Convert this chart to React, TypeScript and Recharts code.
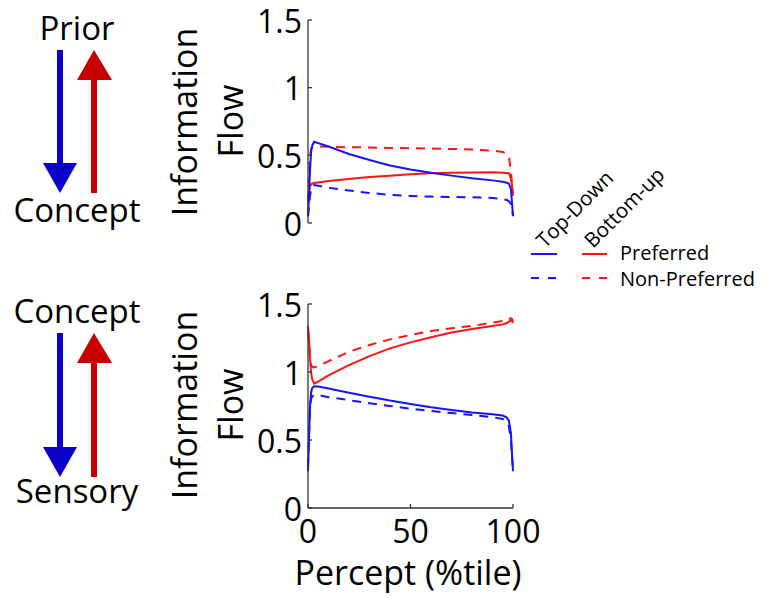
import { LineChart, Line, XAxis, YAxis } from 'recharts';

// percentile positions sampled along the x axis
const percentile = [0, 0.5, 1, 1.5, 2, 3, 5, 10, 20, 30, 40, 50, 60, 70, 80, 90, 95, 97, 98, 99, 99.5, 100];

// Prior <-> Concept panel
const pcTopDownPref = [0.05, 0.2, 0.4, 0.52, 0.57, 0.6, 0.59, 0.565, 0.51, 0.465, 0.425, 0.395, 0.372, 0.35, 0.33, 0.315, 0.305, 0.298, 0.29, 0.25, 0.15, 0.05];
const pcTopDownNon = [0.05, 0.12, 0.2, 0.25, 0.275, 0.28, 0.275, 0.26, 0.24, 0.222, 0.208, 0.2, 0.195, 0.192, 0.19, 0.185, 0.177, 0.17, 0.16, 0.14, 0.1, 0.06];
const pcBottomUpPref = [0.18, 0.24, 0.27, 0.285, 0.29, 0.295, 0.3, 0.31, 0.325, 0.34, 0.35, 0.36, 0.368, 0.372, 0.374, 0.375, 0.372, 0.37, 0.368, 0.33, 0.28, 0.2];
const pcBottomUpNon = [0.15, 0.35, 0.5, 0.55, 0.56, 0.565, 0.565, 0.563, 0.56, 0.558, 0.555, 0.553, 0.55, 0.547, 0.543, 0.535, 0.525, 0.51, 0.49, 0.38, 0.28, 0.22];

// Concept <-> Sensory panel
const csTopDownPref = [0.27, 0.5, 0.75, 0.85, 0.88, 0.895, 0.893, 0.879, 0.847, 0.818, 0.79, 0.764, 0.74, 0.72, 0.703, 0.69, 0.68, 0.665, 0.64, 0.55, 0.4, 0.27];
const csTopDownNon = [0.3, 0.55, 0.75, 0.8, 0.82, 0.83, 0.83, 0.815, 0.793, 0.77, 0.75, 0.73, 0.714, 0.698, 0.683, 0.668, 0.655, 0.63, 0.6, 0.5, 0.38, 0.28];
const csBottomUpPref = [1.34, 1.25, 1.1, 1.0, 0.95, 0.915, 0.93, 0.975, 1.05, 1.117, 1.174, 1.218, 1.255, 1.29, 1.316, 1.338, 1.35, 1.36, 1.37, 1.38, 1.375, 1.36];
const csBottomUpNon = [1.3, 1.2, 1.1, 1.05, 1.04, 1.034, 1.045, 1.08, 1.149, 1.198, 1.24, 1.272, 1.301, 1.321, 1.34, 1.362, 1.375, 1.382, 1.39, 1.395, 1.39, 1.37];

const yTicks = [0, 0.5, 1, 1.5];
const xTicks = [0, 50, 100];

const BLUE = '#1414ff';
const RED = '#ff1414';
const AXIS = '#333';
const FONT = '"Open Sans", sans-serif';
const DASH = '9 7';

const toRows = (td: number[], tdn: number[], bu: number[], bun: number[]) =>
  percentile.map((x, i) => ({ x, td: td[i], tdn: tdn[i], bu: bu[i], bun: bun[i] }));

const topRows = toRows(pcTopDownPref, pcTopDownNon, pcBottomUpPref, pcBottomUpNon);
const bottomRows = toRows(csTopDownPref, csTopDownNon, csBottomUpPref, csBottomUpNon);

function YTick({ x, y, payload }: any) {
  return (
    <g>
      <line x1={x} x2={x + 4} y1={y} y2={y} stroke={AXIS} strokeWidth={1.3} />
      <text x={x - 6} y={y} textAnchor="end" dominantBaseline="central" fontSize={32} fontFamily={FONT} fill="#000">
        {String(payload.value)}
      </text>
    </g>
  );
}

function XTick({ x, y, payload, showLabel }: any) {
  return (
    <g>
      <line x1={x} x2={x} y1={y} y2={y - 4} stroke={AXIS} strokeWidth={1.3} />
      {showLabel && (
        <text x={x} y={y + 35} textAnchor="middle" fontSize={32} fontFamily={FONT} fill="#000">
          {String(payload.value)}
        </text>
      )}
    </g>
  );
}

function Panel({ rows, height, margin, showX }: { rows: any[]; height: number; margin: any; showX: boolean }) {
  return (
    <LineChart width={540} height={height} data={rows} margin={margin}>
      <XAxis
        dataKey="x"
        type="number"
        domain={[0, 100]}
        ticks={xTicks}
        height={showX ? 40 : 0}
        tickSize={0}
        tickMargin={0}
        tickLine={false}
        axisLine={{ stroke: AXIS, strokeWidth: 1.3 }}
        tick={<XTick showLabel={showX} />}
        interval={0}
      />
      <YAxis
        type="number"
        domain={[0, 1.5]}
        ticks={yTicks}
        width={60}
        tickSize={0}
        tickMargin={0}
        tickLine={false}
        axisLine={{ stroke: AXIS, strokeWidth: 1.3 }}
        tick={<YTick />}
        interval={0}
      />
      <Line dataKey="tdn" stroke={BLUE} strokeWidth={2} strokeDasharray={DASH} dot={false} isAnimationActive={false} />
      <Line dataKey="bun" stroke={RED} strokeWidth={2} strokeDasharray={DASH} dot={false} isAnimationActive={false} />
      <Line dataKey="bu" stroke={RED} strokeWidth={2} dot={false} isAnimationActive={false} />
      <Line dataKey="td" stroke={BLUE} strokeWidth={2} dot={false} isAnimationActive={false} />
    </LineChart>
  );
}

function Arrows({ top, bottom }: { top: number; bottom: number }) {
  // blue down arrow (top-down) and red up arrow (bottom-up)
  return (
    <g>
      <rect x={57} y={top} width={6} height={bottom - 30 - top} fill="#0a00c8" />
      <polygon points={`43,${bottom - 30} 77,${bottom - 30} 60,${bottom}`} fill="#0a00c8" />
      <rect x={91} y={top + 30} width={6} height={bottom - top - 30} fill="#c80000" />
      <polygon points={`77,${top + 30} 112,${top + 30} 94,${top}`} fill="#c80000" />
    </g>
  );
}

export default function App() {
  const big = { fontFamily: FONT, fontSize: 33, fill: '#000' };
  const axisTitle = { fontFamily: FONT, fontSize: 34, fill: '#000' };
  const leg = { fontFamily: FONT, fontSize: 20, fill: '#000' };
  return (
    <div style={{ position: 'absolute', left: 0, top: 0, width: 769, height: 598, background: '#fff', overflow: 'hidden' }}>
      <div style={{ position: 'absolute', left: 0, top: 0 }}>
        <Panel rows={topRows} height={260} margin={{ top: 20, right: 27, left: 248, bottom: 37 }} showX={false} />
      </div>
      <div style={{ position: 'absolute', left: 0, top: 0 }}>
        <Panel rows={bottomRows} height={598} margin={{ top: 304, right: 27, left: 248, bottom: 50 }} showX={true} />
      </div>
      <svg width={769} height={598} style={{ position: 'absolute', left: 0, top: 0, pointerEvents: 'none' }}>
        <text x={77} y={40} textAnchor="middle" {...big}>Prior</text>
        <text x={77} y={222} textAnchor="middle" {...big}>Concept</text>
        <Arrows top={50} bottom={193} />
        <text x={77} y={323} textAnchor="middle" {...big}>Concept</text>
        <text x={77} y={503} textAnchor="middle" {...big}>Sensory</text>
        <Arrows top={333} bottom={477} />

        <text transform="translate(197,122) rotate(-90)" textAnchor="middle" {...axisTitle}>Information</text>
        <text transform="translate(243,121) rotate(-90)" textAnchor="middle" {...axisTitle}>Flow</text>
        <text transform="translate(197,405) rotate(-90)" textAnchor="middle" {...axisTitle}>Information</text>
        <text transform="translate(243,405) rotate(-90)" textAnchor="middle" {...axisTitle}>Flow</text>

        <text x={408} y={585} textAnchor="middle" {...axisTitle}>Percept (%tile)</text>

        <text transform="translate(545,249) rotate(-45)" fontSize={20.5} fontFamily={FONT} fill="#000">Top-Down</text>
        <text transform="translate(593,249) rotate(-45)" fontSize={20.5} fontFamily={FONT} fill="#000">Bottom-up</text>
        <line x1={531} x2={557} y1={254} y2={254} stroke={BLUE} strokeWidth={2} />
        <line x1={531} x2={557} y1={278} y2={278} stroke={BLUE} strokeWidth={2} strokeDasharray="8 9" />
        <line x1={582} x2={607} y1={254} y2={254} stroke={RED} strokeWidth={2} />
        <line x1={582} x2={607} y1={278} y2={278} stroke={RED} strokeWidth={2} strokeDasharray="8 9" />
        <text x={620} y={260} {...leg}>Preferred</text>
        <text x={620} y={286} {...leg}>Non-Preferred</text>
      </svg>
    </div>
  );
}
